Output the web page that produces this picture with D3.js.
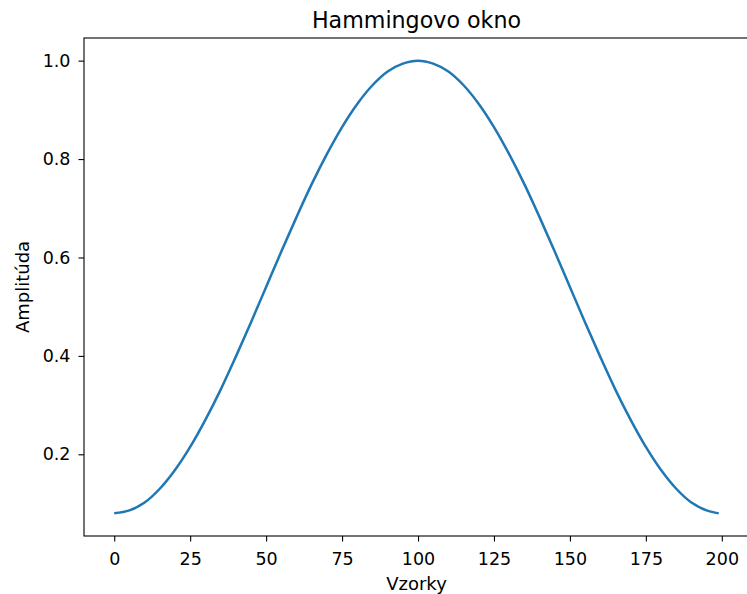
<!DOCTYPE html>
<html>
<head>
<meta charset="utf-8">
<script src="https://cdn.jsdelivr.net/npm/d3@7"></script>
<style>
body { margin: 0; background: #fff; }
text { font-family: "DejaVu Sans", sans-serif; fill: #000; }
</style>
</head>
<body>
<script>
// samples (every 5th sample, last one at 199)
var samples = [0,5,10,15,20,25,30,35,40,45,50,55,60,65,70,75,80,85,90,95,100,
  105,110,115,120,125,130,135,140,145,150,155,160,165,170,175,180,185,190,195,199];
var amplitude = [0.080,0.086,0.102,0.130,0.168,0.215,0.270,0.331,0.398,0.468,0.540,
  0.612,0.682,0.749,0.810,0.865,0.912,0.950,0.978,0.994,1.000,
  0.994,0.978,0.950,0.912,0.865,0.810,0.749,0.682,0.612,0.540,
  0.468,0.398,0.331,0.270,0.215,0.168,0.130,0.102,0.086,0.080];
var xTicks = [0,25,50,75,100,125,150,175,200];
var yTicks = [0.2,0.4,0.6,0.8,1.0];

var W = 747, H = 594;
var mLeft = 84, mRight = 749, mTop = 38, mBottom = 536;

var svg = d3.select("body").append("svg").attr("width", W).attr("height", H);

var x = d3.scaleLinear().domain([-9.95, 208.95]).range([mLeft, mRight]);
var y = d3.scaleLinear().domain([0.034, 1.046]).range([mBottom, mTop]);

var data = samples.map((s, i) => [s, amplitude[i]]);

svg.append("path")
  .datum(data)
  .attr("fill", "none")
  .attr("stroke", "#1f77b4")
  .attr("stroke-width", 2.5)
  .attr("d", d3.line().x(d => x(d[0])).y(d => y(d[1])).curve(d3.curveCatmullRom));

var xAxis = svg.append("g").attr("transform", "translate(0," + mBottom + ")")
  .call(d3.axisBottom(x).tickValues(xTicks).tickSize(5.5).tickPadding(5).tickFormat(d3.format("d")));
var yAxis = svg.append("g").attr("transform", "translate(" + mLeft + ",0)")
  .call(d3.axisLeft(y).tickValues(yTicks).tickSize(5.5).tickPadding(8).tickFormat(d3.format(".1f")));

[xAxis, yAxis].forEach(g => {
  g.attr("font-size", null).attr("font-family", null);
  g.select(".domain").remove();
  g.selectAll(".tick line").attr("stroke", "#000").attr("stroke-width", 1.1);
  g.selectAll(".tick text").style("font-size", "17.5px");
});
xAxis.selectAll(".tick text").attr("y", 29).attr("dy", null);

// frame
svg.append("rect").attr("x", mLeft).attr("y", mTop)
  .attr("width", mRight - mLeft).attr("height", mBottom - mTop)
  .attr("fill", "none").attr("stroke", "#000").attr("stroke-width", 1.1);

svg.append("text").attr("x", (mLeft + mRight) / 2).attr("y", 27.5)
  .attr("text-anchor", "middle").style("font-size", "22.2px").text("Hammingovo okno");
svg.append("text").attr("x", (mLeft + mRight) / 2).attr("y", 590)
  .attr("text-anchor", "middle").style("font-size", "18px").text("Vzorky");
svg.append("text").attr("transform", "translate(29," + (mTop + mBottom) / 2 + ") rotate(-90)")
  .attr("text-anchor", "middle").style("font-size", "18px").text("Amplitúda");
</script>
</body>
</html>
